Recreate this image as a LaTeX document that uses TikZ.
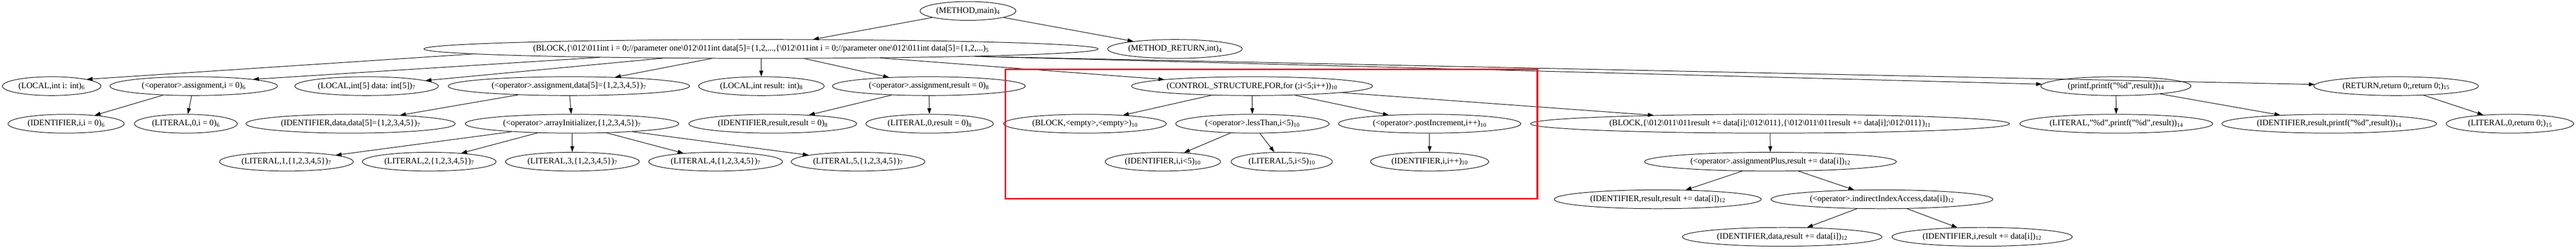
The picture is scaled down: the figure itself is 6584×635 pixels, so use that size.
\documentclass[tikz,border=0pt]{standalone}
\usepackage{fontspec}
\setmainfont{Liberation Serif}
\usetikzlibrary{shapes.geometric, arrows.meta}
\definecolor{boxred}{RGB}{237,28,36}
\newcommand{\bsl}{\textbackslash}

\begin{document}
\begin{tikzpicture}[x=1pt, y=-1pt, >={Triangle[length=15pt, width=10pt]},
    ast/.style={draw, ellipse, line width=1.3pt, minimum height=48pt,
      inner xsep=-60pt, inner ysep=0pt, font=\fontsize{21.5}{24}\selectfont},
    astedge/.style={->, line width=1.3pt}]
    \useasboundingbox (0,0) rectangle (6584,635);

    % method and its body
    \node[ast, minimum width=245pt] (meth) at (2474,28) {(METHOD,main)\textsubscript{4}};
    \node[ast, minimum width=1723pt] (blk) at (1945,125) {(BLOCK,\{\bsl 012\bsl 011int i = 0;//parameter one\bsl 012\bsl 011int data[5]=\{1,2,...,\{\bsl 012\bsl 011int i = 0;//parameter one\bsl 012\bsl 011int data[5]=\{1,2,...)\textsubscript{5}};
    \node[ast, minimum width=344pt] (mret) at (3003,125) {(METHOD\_RETURN,int)\textsubscript{4}};

    % statements
    \node[ast, minimum width=252pt] (li) at (132,220) {(LOCAL,int i: int)\textsubscript{6}};
    \node[ast, minimum width=428pt] (ai) at (495,220) {(<operator>.assignment,i = 0)\textsubscript{6}};
    \node[ast, minimum width=367pt] (ld) at (937,220) {(LOCAL,int[5] data: int[5])\textsubscript{7}};
    \node[ast, minimum width=617pt] (ad) at (1454,220) {(<operator>.assignment,data[5]=\{1,2,3,4,5\})\textsubscript{7}};
    \node[ast, minimum width=321pt] (lr) at (1946,220) {(LOCAL,int result: int)\textsubscript{8}};
    \node[ast, minimum width=493pt] (ar) at (2374,220) {(<operator>.assignment,result = 0)\textsubscript{8}};
    \node[ast, minimum width=616pt] (fr) at (3200,220) {(CONTROL\_STRUCTURE,FOR,for (;i<5;i++))\textsubscript{10}};
    \node[ast, minimum width=384pt] (pf) at (5408,220) {(printf,printf("\%d",result))\textsubscript{14}};
    \node[ast, minimum width=421pt] (ret) at (6124,220) {(RETURN,return 0;,return 0;)\textsubscript{15}};

    \node[ast, minimum width=297pt] (idi) at (169,316) {(IDENTIFIER,i,i = 0)\textsubscript{6}};
    \node[ast, minimum width=263pt] (li0) at (475,316) {(LITERAL,0,i = 0)\textsubscript{6}};
    \node[ast, minimum width=535pt] (idd) at (896,316) {(IDENTIFIER,data,data[5]=\{1,2,3,4,5\})\textsubscript{7}};
    \node[ast, minimum width=546pt] (ainit) at (1462,316) {(<operator>.arrayInitializer,\{1,2,3,4,5\})\textsubscript{7}};
    \node[ast, minimum width=429pt] (idr) at (1975,316) {(IDENTIFIER,result,result = 0)\textsubscript{8}};
    \node[ast, minimum width=326pt] (lr0) at (2376,316) {(LITERAL,0,result = 0)\textsubscript{8}};
    \node[ast, minimum width=416pt] (bemp) at (2773,316) {(BLOCK,<empty>,<empty>)\textsubscript{10}};
    \node[ast, minimum width=392pt] (lt) at (3201,316) {(<operator>.lessThan,i<5)\textsubscript{10}};
    \node[ast, minimum width=466pt] (pinc) at (3654,316) {(<operator>.postIncrement,i++)\textsubscript{10}};
    \node[ast, minimum width=1224pt] (bbody) at (4524,316) {(BLOCK,\{\bsl 012\bsl 011\bsl 011result += data[i];\bsl 012\bsl 011\},\{\bsl 012\bsl 011\bsl 011result += data[i];\bsl 012\bsl 011\})\textsubscript{11}};
    \node[ast, minimum width=493pt] (lfmt) at (5409,316) {(LITERAL,"\%d",printf("\%d",result))\textsubscript{14}};
    \node[ast, minimum width=549pt] (idpr) at (5953,316) {(IDENTIFIER,result,printf("\%d",result))\textsubscript{14}};
    \node[ast, minimum width=326pt] (lret) at (6415,316) {(LITERAL,0,return 0;)\textsubscript{15}};

    \node[ast, minimum width=342pt] (lit1) at (732,413) {(LITERAL,1,\{1,2,3,4,5\})\textsubscript{7}};
    \node[ast, minimum width=342pt] (lit2) at (1097,413) {(LITERAL,2,\{1,2,3,4,5\})\textsubscript{7}};
    \node[ast, minimum width=342pt] (lit3) at (1463,413) {(LITERAL,3,\{1,2,3,4,5\})\textsubscript{7}};
    \node[ast, minimum width=342pt] (lit4) at (1829,413) {(LITERAL,4,\{1,2,3,4,5\})\textsubscript{7}};
    \node[ast, minimum width=342pt] (lit5) at (2193,413) {(LITERAL,5,\{1,2,3,4,5\})\textsubscript{7}};
    \node[ast, minimum width=295pt] (idlt) at (2972,413) {(IDENTIFIER,i,i<5)\textsubscript{10}};
    \node[ast, minimum width=259pt] (l5) at (3276,413) {(LITERAL,5,i<5)\textsubscript{10}};
    \node[ast, minimum width=302pt] (idinc) at (3654,413) {(IDENTIFIER,i,i++)\textsubscript{10}};
    \node[ast, minimum width=644pt] (aplus) at (4525,413) {(<operator>.assignmentPlus,result += data[i])\textsubscript{12}};

    \node[ast, minimum width=529pt] (idres) at (4237,509) {(IDENTIFIER,result,result += data[i])\textsubscript{12}};
    \node[ast, minimum width=567pt] (iacc) at (4810,509) {(<operator>.indirectIndexAccess,data[i])\textsubscript{12}};
    \node[ast, minimum width=510pt] (iddat) at (4555,605) {(IDENTIFIER,data,result += data[i])\textsubscript{12}};
    \node[ast, minimum width=461pt] (idix) at (5066,605) {(IDENTIFIER,i,result += data[i])\textsubscript{12}};

    % edges
    \draw[astedge] (meth) -- (blk);
    \draw[astedge] (meth) -- (mret);
    \draw[astedge] (blk.181) -- (li.north east);
    \draw[astedge] (blk.183) -- (ai.north east);
    \draw[astedge] (blk) -- (ld);
    \draw[astedge] (blk) -- (ad);
    \draw[astedge] (blk) -- (lr);
    \draw[astedge] (blk) -- (ar);
    \draw[astedge] (blk) -- (fr);
    \draw[astedge] (blk.358) -- (pf);
    \draw[astedge] (blk.358) -- (ret);

    \draw[astedge] (ai) -- (idi);
    \draw[astedge] (ai) -- (li0);
    \draw[astedge] (ad) -- (idd);
    \draw[astedge] (ad) -- (ainit);
    \draw[astedge] (ainit) -- (lit1);
    \draw[astedge] (ainit) -- (lit2);
    \draw[astedge] (ainit) -- (lit3);
    \draw[astedge] (ainit) -- (lit4);
    \draw[astedge] (ainit) -- (lit5);
    \draw[astedge] (ar) -- (idr);
    \draw[astedge] (ar) -- (lr0);

    \draw[astedge] (fr) -- (bemp);
    \draw[astedge] (fr) -- (lt);
    \draw[astedge] (fr) -- (pinc);
    \draw[astedge] (fr) -- (bbody);
    \draw[astedge] (lt) -- (idlt);
    \draw[astedge] (lt) -- (l5);
    \draw[astedge] (pinc) -- (idinc);
    \draw[astedge] (bbody) -- (aplus);
    \draw[astedge] (aplus) -- (idres);
    \draw[astedge] (aplus) -- (iacc);
    \draw[astedge] (iacc) -- (iddat);
    \draw[astedge] (iacc) -- (idix);

    \draw[astedge] (pf) -- (lfmt);
    \draw[astedge] (pf) -- (idpr);
    \draw[astedge] (ret) -- (lret);

    % highlighted loop header
    \draw[line width=4.7pt, boxred] (2569.5,177) rectangle (3929,507.5);
\end{tikzpicture}
\end{document}
